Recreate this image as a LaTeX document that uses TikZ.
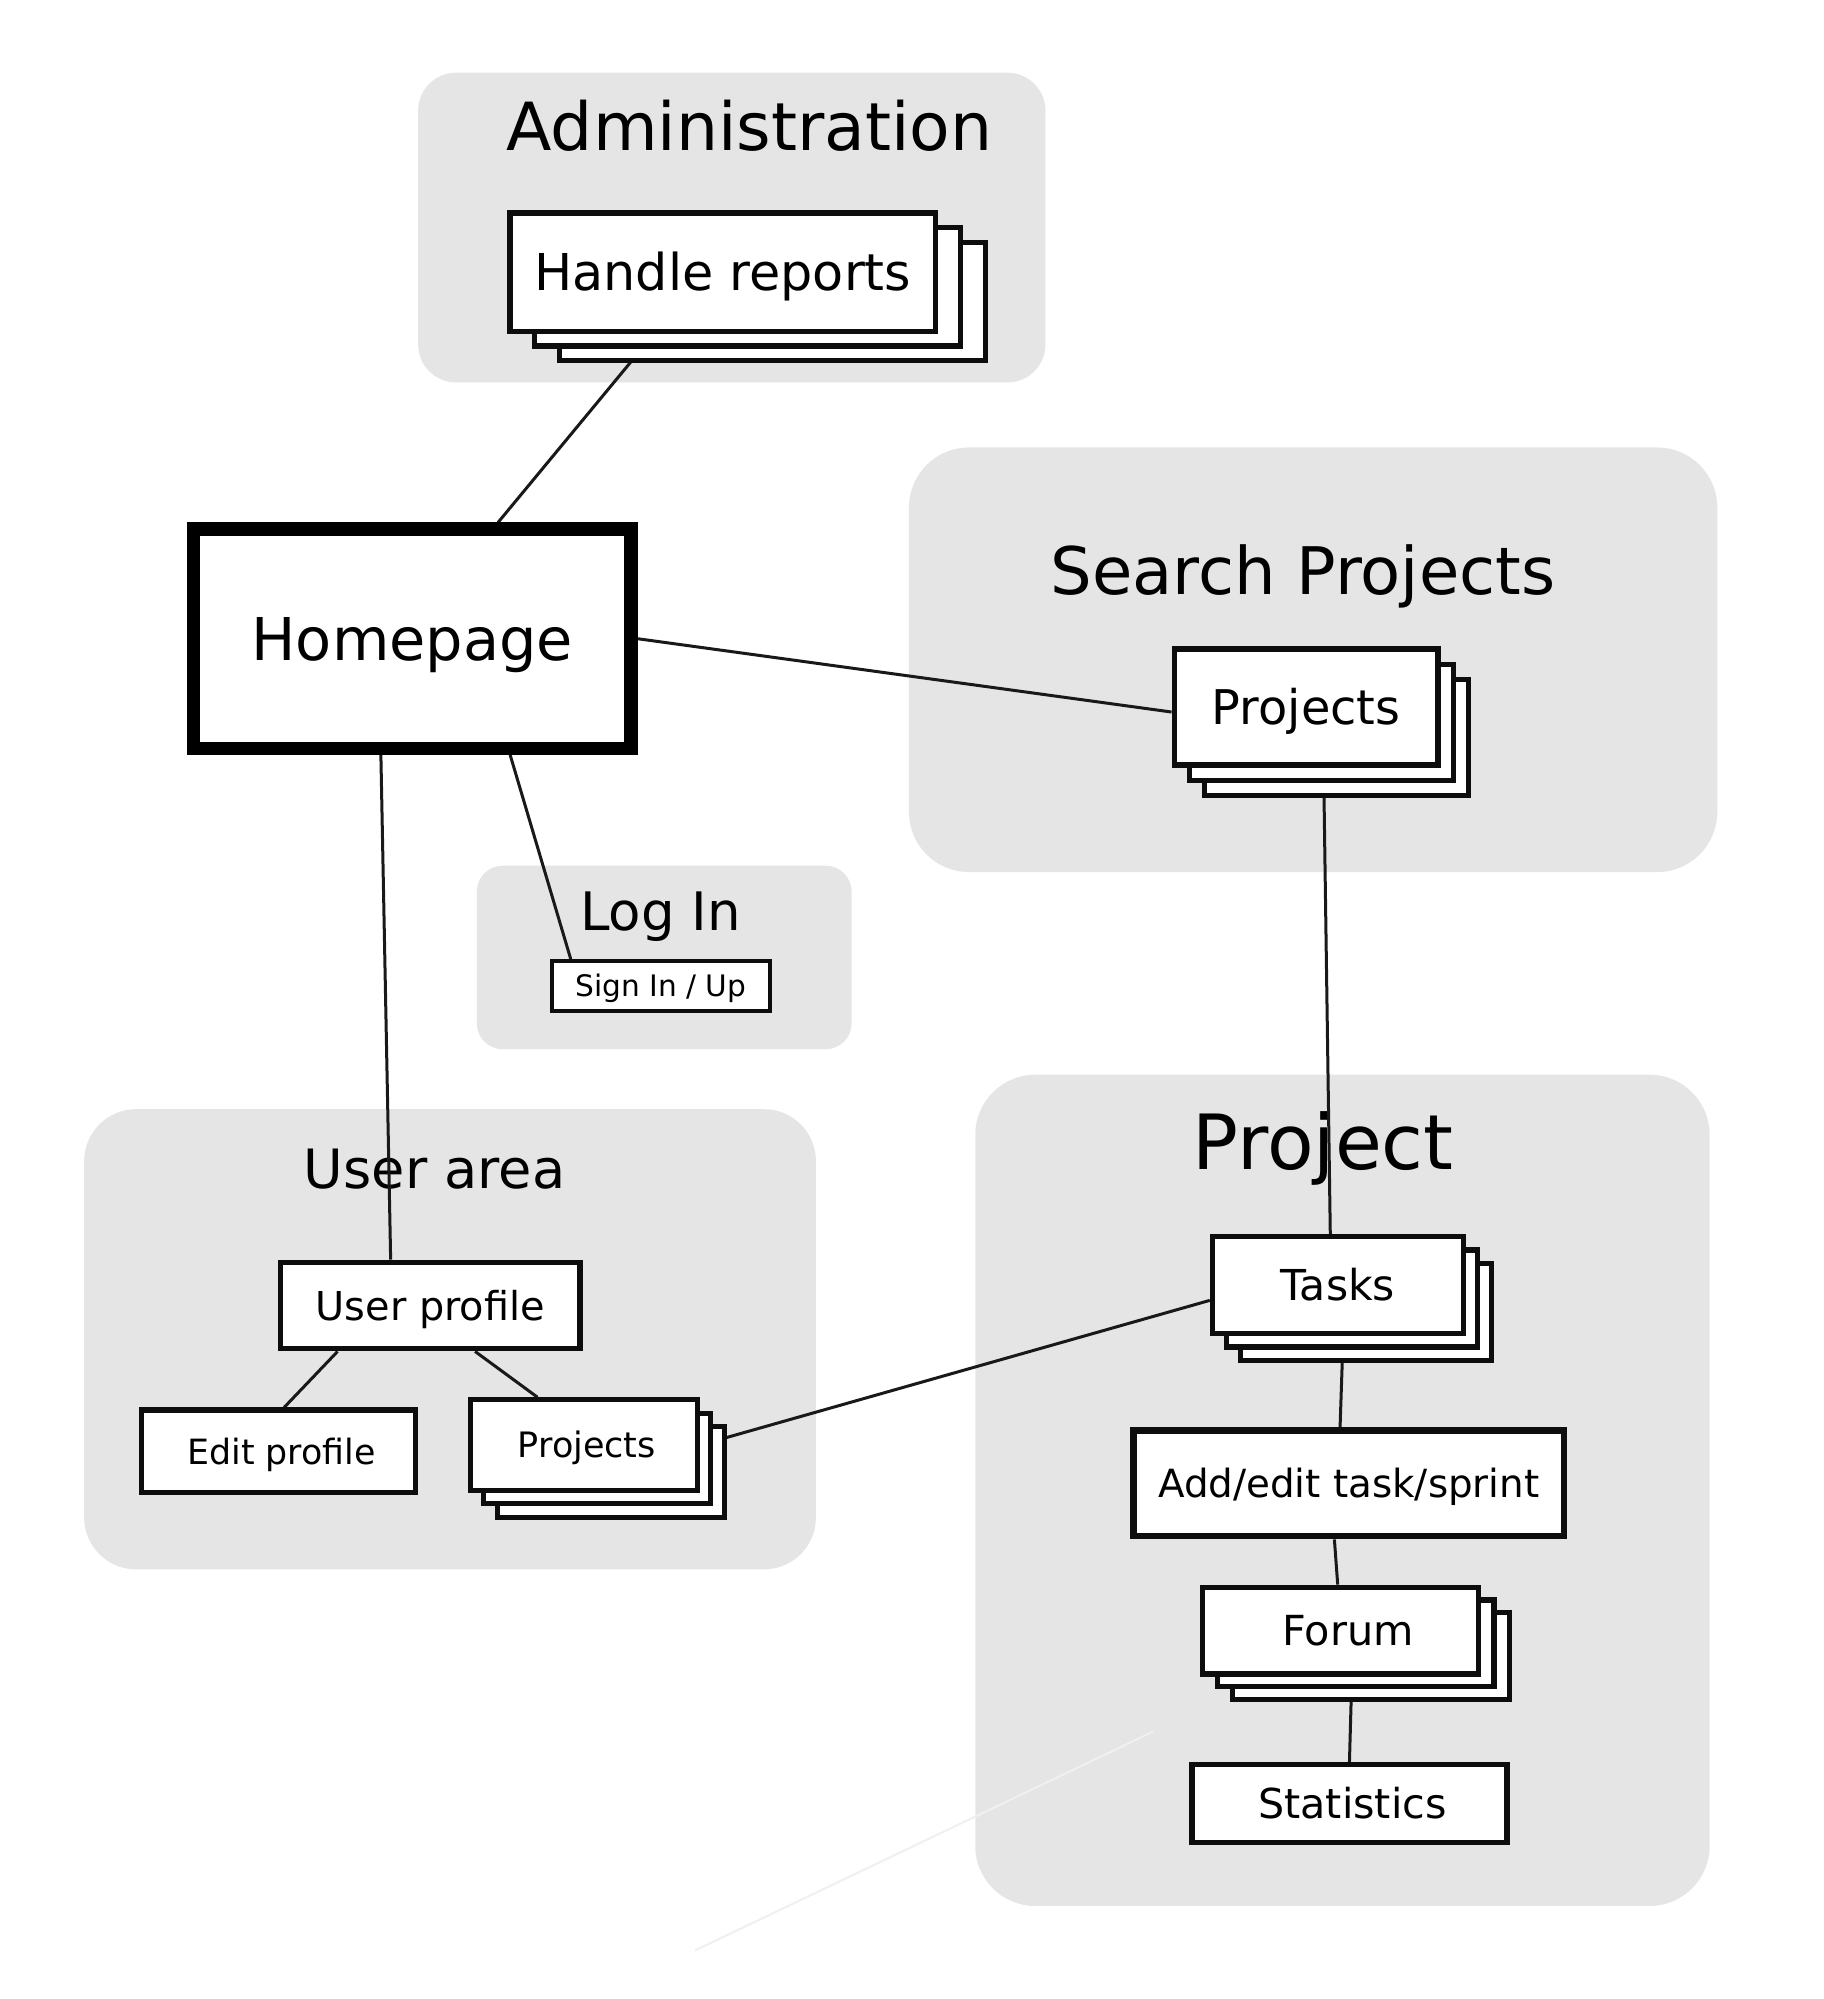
\documentclass[tikz,border=0pt]{standalone}
\usepackage{fontspec}
\setmainfont{DejaVu Sans}
\usetikzlibrary{fit,calc,shadows}
\pgfdeclarelayer{bg}
\pgfdeclarelayer{edges}
\pgfsetlayers{bg,edges,main}
\tikzset{
  grp/.style={fill=black!10, draw=none, inner sep=0pt},
  tf/.style={font=\fontsize{#1pt}{#1pt}\selectfont, inner sep=0pt, anchor=base},
  fs/.style={font=\fontsize{#1pt}{#1pt}\selectfont, text height={0.73*#1pt}, text depth=0pt},
  sz/.style 2 args={minimum width={#1*0.6374pt}, minimum height={#2*0.6374pt}},
  box/.style={draw=black!95, line width=2.6pt, fill=white, inner sep=0pt, anchor=center},
  stk/.style n args={4}{
    copy shadow={shadow xshift=#3, shadow yshift=-#4, draw=black!95, fill=white, line width=2.6pt},
    copy shadow={shadow xshift=#1, shadow yshift=-#2, draw=black!95, fill=white, line width=2.6pt}},
  conn/.style={line width=1.5pt, black!90},
}
\begin{document}
\begin{tikzpicture}[x=0.6374pt, y=-0.6374pt]
\begin{pgfonlayer}{bg}
\fill[white] (0,0) rectangle (1430,1568);
\end{pgfonlayer}
\useasboundingbox (0,0) rectangle (1430,1568);

% boxes
\node[box, fs=25.4, sz={334}{93}, stk={12.4pt}{7.3pt}{24.8pt}{14.6pt}] (hr) at (567,213.5) {Handle reports};
\node[box, draw=black, line width=6.6pt, fs=29.5, sz={343}{172}] (hp) at (323.5,501) {Homepage\hspace{5pt}};
\node[box, fs=23.9, sz={207}{91}, stk={7.6pt}{7.6pt}{15.2pt}{15.2pt}] (ps) at (1024.5,554.5) {Projects};
\node[box, line width=2.2pt, fs=14.8, sz={171}{39}] (si) at (518.5,773.5) {Sign In / Up};
\node[box, fs=19.9, sz={235}{68}] (up) at (337.5,1024) {User profile};
\node[box, fs=17.4, sz={215}{65}] (ep) at (218.5,1138.5) {\hspace{3pt}Edit profile};
\node[box, fs=17.5, sz={178}{71}, stk={6.7pt}{6.7pt}{13.4pt}{13.4pt}] (pu) at (458,1133.5) {\hspace{3pt}Projects};
\node[box, fs=21.3, sz={197}{76}, stk={7pt}{6.7pt}{14pt}{13.4pt}] (tk) at (1049.5,1008) {Tasks};
\node[box, line width=3.2pt, fs=19.4, sz={338}{83}] (ae) at (1058,1163.5) {Add/edit task/sprint};
\node[box, fs=20.7, sz={217}{68}, stk={7.6pt}{6.4pt}{15.2pt}{12.8pt}] (fo) at (1051.5,1279) {\hspace{7.5pt}Forum};
\node[box, fs=20.6, sz={247}{61}] (st) at (1058.5,1414.5) {\hspace{3pt}Statistics};

\begin{pgfonlayer}{bg}
\node[grp, rounded corners=19pt, fit={(328,57)(820,300)}] (gAd) {};
\node[grp, rounded corners=30pt, fit={(713,351)(1347,684)}] (gSP) {};
\node[grp, rounded corners=13pt, fit={(374,679)(668,823)}] (gLI) {};
\node[grp, rounded corners=26pt, fit={(66,870)(640,1231)}] (gUA) {};
\node[grp, rounded corners=30pt, fit={(765,843)(1341,1495)}] (gPr) {};
\node[tf=33.2] (tAd) at (588,118) {Administration};
\node[tf=32.8] (tSP) at (1022,466) {Search Projects};
\node[tf=26.5] (tLI) at (518,730) {Log In};
\node[tf=27.1] (tUA) at (341,932) {User area};
\node[tf=38.1] (tPr) at (1038,917) {Project};
\coordinate (fa) at (905,1358);
\coordinate (fb) at (545,1530);
\draw[black!6, line width=1pt] (fa) -- (fb);
\end{pgfonlayer}

\begin{pgfonlayer}{edges}
\draw[conn] ($(hr.south west)!0.34!(hr.south east)$) -- ($(hp.north west)!0.69!(hp.north east)$);
\draw[conn] (hp.east) -- ($(ps.west)+(0,4)$);
\draw[conn] ($(ps.south west)!0.565!(ps.south east)$) -- ($(tk.north west)!0.47!(tk.north east)$);
\draw[conn] ($(hp.south west)!0.717!(hp.south east)$) -- ($(si.north west)!0.094!(si.north east)$);
\draw[conn] ($(hp.south west)!0.43!(hp.south east)$) -- ($(up.north west)!0.37!(up.north east)$);
\draw[conn] ($(up.south west)!0.196!(up.south east)$) -- ($(ep.north west)!0.52!(ep.north east)$);
\draw[conn] ($(up.south west)!0.647!(up.south east)$) -- ($(pu.north west)!0.30!(pu.north east)$);
\draw[conn] (pu.east) -- ($(tk.west)+(0,12)$);
\draw[conn] ($(tk.south west)!0.52!(tk.south east)$) -- ($(ae.north west)!0.48!(ae.north east)$);
\draw[conn] ($(ae.south west)!0.467!(ae.south east)$) -- ($(fo.north west)!0.49!(fo.north east)$);
\draw[conn] ($(fo.south west)!0.54!(fo.south east)$) -- ($(st.north west)!0.50!(st.north east)$);
\end{pgfonlayer}
\end{tikzpicture}
\end{document}
